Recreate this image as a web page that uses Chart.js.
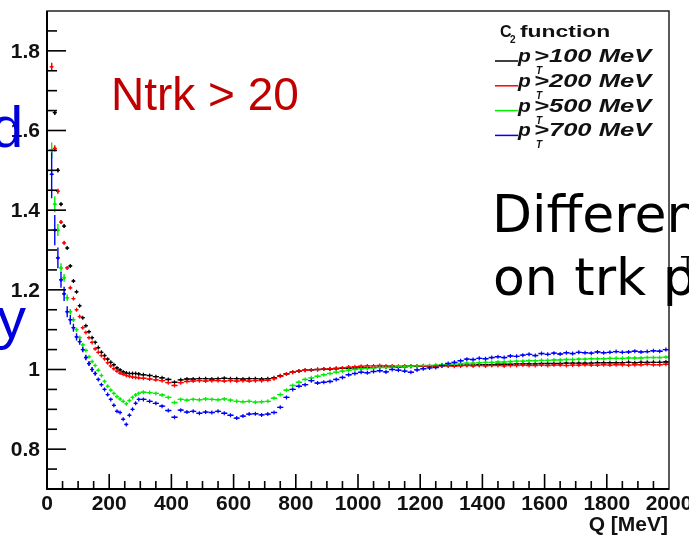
<!DOCTYPE html>
<html>
<head>
<meta charset="utf-8">
<script src="https://cdn.jsdelivr.net/npm/chart.js@4.4.1/dist/chart.umd.min.js"></script>
<style>
  html, body { margin: 0; padding: 0; background: #fff; }
  canvas { display: block; }
</style>
</head>
<body>
<canvas id="c2Chart" width="689" height="536"></canvas>
<script>
// bin centres in MeV (10 MeV bins below 300, 20 MeV bins above)
const qBins = [
  5, 15, 25, 35, 45, 55, 65, 75, 85, 95,
  105, 115, 125, 135, 145, 155, 165, 175, 185, 195,
  205, 215, 225, 235, 245, 255, 265, 275, 285, 295,
  310, 330, 350, 370, 390, 410, 430, 450, 470, 490,
  510, 530, 550, 570, 590, 610, 630, 650, 670, 690,
  710, 730, 750, 770, 790, 810, 830, 850, 870, 890,
  910, 930, 950, 970, 990, 1010, 1030, 1050, 1070, 1090,
  1110, 1130, 1150, 1170, 1190, 1210, 1230, 1250, 1270, 1290,
  1310, 1330, 1350, 1370, 1390, 1410, 1430, 1450, 1470, 1490,
  1510, 1530, 1550, 1570, 1590, 1610, 1630, 1650, 1670, 1690,
  1710, 1730, 1750, 1770, 1790, 1810, 1830, 1850, 1870, 1890,
  1910, 1930, 1950, 1970, 1990
];

// C2 for pT > 100 MeV
const c2pt100 = [
  null, null, 1.645, 1.50, 1.415, 1.36, 1.305, 1.26, 1.222, 1.195,
  1.16, 1.13, 1.11, 1.095, 1.08, 1.068, 1.055, 1.043, 1.035, 1.026,
  1.018, 1.012, 1.004, 0.999, 0.994, 0.991, 0.990, 0.990, 0.990, 0.989,
  0.987, 0.985, 0.982, 0.979, 0.975, 0.968, 0.974, 0.976, 0.976, 0.977,
  0.977, 0.976, 0.977, 0.978, 0.977, 0.977, 0.976, 0.977, 0.977, 0.976,
  0.977, 0.979, 0.984, 0.989, 0.993, 0.996, 0.998, 0.999, 1.000, 1.001,
  1.001, 1.002, 1.003, 1.003, 1.004, 1.004, 1.005, 1.005, 1.006, 1.006,
  1.007, 1.006, 1.007, 1.008, 1.008, 1.008, 1.009, 1.009, 1.010, 1.010,
  1.010, 1.011, 1.011, 1.011, 1.012, 1.012, 1.012, 1.013, 1.013, 1.013,
  1.014, 1.014, 1.014, 1.014, 1.015, 1.015, 1.015, 1.015, 1.016, 1.016,
  1.016, 1.016, 1.016, 1.017, 1.017, 1.017, 1.017, 1.017, 1.018, 1.017,
  1.018, 1.018, 1.018, 1.018, 1.019
];

// C2 for pT > 200 MeV
const c2pt200 = [
  null, 1.76, 1.555, 1.4475, 1.37, 1.318, 1.255, 1.205, 1.178, 1.15,
  1.133, 1.105, 1.093, 1.08, 1.068, 1.052, 1.043, 1.035, 1.027, 1.017,
  1.009, 1.002, 0.996, 0.991, 0.988, 0.985, 0.983, 0.981, 0.980, 0.979,
  0.978, 0.976, 0.974, 0.972, 0.967, 0.960, 0.967, 0.970, 0.971, 0.972,
  0.971, 0.972, 0.972, 0.971, 0.972, 0.971, 0.972, 0.971, 0.972, 0.972,
  0.973, 0.977, 0.983, 0.989, 0.993, 0.996, 0.998, 0.999, 1.000, 1.001,
  1.002, 1.003, 1.004, 1.006, 1.007, 1.008, 1.009, 1.009, 1.010, 1.009,
  1.009, 1.008, 1.009, 1.008, 1.009, 1.008, 1.009, 1.008, 1.009, 1.009,
  1.008, 1.009, 1.010, 1.009, 1.010, 1.009, 1.010, 1.010, 1.009, 1.010,
  1.010, 1.011, 1.010, 1.010, 1.011, 1.010, 1.011, 1.011, 1.010, 1.011,
  1.011, 1.012, 1.011, 1.011, 1.012, 1.011, 1.012, 1.012, 1.011, 1.012,
  1.012, 1.013, 1.012, 1.012, 1.013
];

// C2 for pT > 500 MeV
const c2pt500 = [
  null, 1.55, 1.415, 1.35, 1.255, 1.23, 1.18, 1.145, 1.125, 1.10,
  1.08, 1.062, 1.048, 1.032, 1.02, 1.01, 0.998, 0.985, 0.97, 0.958,
  0.948, 0.94, 0.932, 0.926, 0.92, 0.914, 0.922, 0.93, 0.936, 0.94,
  0.943, 0.942, 0.940, 0.936, 0.930, 0.917, 0.925, 0.923, 0.925, 0.924,
  0.926, 0.925, 0.924, 0.926, 0.923, 0.920, 0.919, 0.920, 0.918, 0.919,
  0.920, 0.928, 0.937, 0.948, 0.960, 0.968, 0.975, 0.979, 0.983, 0.987,
  0.990, 0.993, 0.996, 0.998, 1.000, 1.002, 1.003, 1.004, 1.005, 1.005,
  1.006, 1.007, 1.007, 1.008, 1.009, 1.010, 1.010, 1.011, 1.012, 1.013,
  1.014, 1.015, 1.016, 1.016, 1.017, 1.018, 1.018, 1.019, 1.019, 1.020,
  1.021, 1.021, 1.022, 1.022, 1.023, 1.023, 1.024, 1.024, 1.025, 1.025,
  1.026, 1.026, 1.027, 1.027, 1.027, 1.028, 1.028, 1.028, 1.029, 1.029,
  1.029, 1.030, 1.030, 1.030, 1.031
];

// C2 for pT > 700 MeV
const c2pt700 = [
  null, 1.49, 1.35, 1.28, 1.225, 1.19, 1.145, 1.125, 1.105, 1.082,
  1.07, 1.05, 1.03, 1.015, 1.0, 0.99, 0.975, 0.962, 0.95, 0.937,
  0.925, 0.91, 0.895, 0.892, 0.875, 0.862, 0.885, 0.90, 0.915, 0.925,
  0.925, 0.920, 0.915, 0.908, 0.897, 0.880, 0.898, 0.893, 0.895, 0.890,
  0.893, 0.892, 0.895, 0.890, 0.885, 0.878, 0.883, 0.888, 0.889, 0.886,
  0.888, 0.892, 0.905, 0.930, 0.950, 0.958, 0.962, 0.972, 0.966, 0.968,
  0.970, 0.975, 0.980, 0.987, 0.990, 0.993, 0.992, 0.995, 0.997, 0.994,
  1.000, 0.998, 0.996, 0.993, 0.999, 1.002, 1.004, 1.005, 1.010, 1.015,
  1.018, 1.022, 1.026, 1.025, 1.028, 1.027, 1.030, 1.032, 1.030, 1.034,
  1.033, 1.036, 1.038, 1.035, 1.040, 1.038, 1.041, 1.039, 1.042, 1.040,
  1.043, 1.042, 1.041, 1.044, 1.042, 1.043, 1.045, 1.043, 1.044, 1.046,
  1.044, 1.045, 1.047, 1.046, 1.050
];

// statistical errors of the first bins (later bins are tiny)
const err100 = [0, 0, 0.006, 0.005, 0.004, 0.004, 0.003, 0.003];
const err200 = [0, 0.01, 0.008, 0.006, 0.005, 0.004, 0.004, 0.003];
const err500 = [0, 0.02, 0.02, 0.015, 0.012, 0.01, 0.008, 0.007, 0.006, 0.005, 0.005, 0.004];
const err700 = [0, 0.06, 0.038, 0.026, 0.02, 0.018, 0.014, 0.012, 0.01, 0.009, 0.008, 0.007, 0.007, 0.006, 0.006, 0.005];

const seriesNames = [">100 MeV", ">200 MeV", ">500 MeV", ">700 MeV"];
const seriesColors = ["#000000", "#ff0000", "#00ee00", "#0000ff"];

const xTickLabels = [0, 200, 400, 600, 800, 1000, 1200, 1400, 1600, 1800, 2000];
const yTickLabels = [0.8, 1, 1.2, 1.4, 1.6, 1.8];

function toPoints(values, errs) {
  const pts = [];
  values.forEach((v, i) => {
    if (v === null) return;
    pts.push({ x: qBins[i], y: v, e: errs[i] || 0.002, w: qBins[i] < 300 ? 10 : 20 });
  });
  return pts;
}

const allValues = [c2pt100, c2pt200, c2pt500, c2pt700];
const allErrs = [err100, err200, err500, err700];

const datasets = allValues.map((vals, k) => ({
  label: "pT" + seriesNames[k],
  data: toPoints(vals, allErrs[k]),
  borderColor: seriesColors[k],
  backgroundColor: seriesColors[k],
  pointStyle: "cross",
  pointRadius: 2,
  borderWidth: 1.2,
  showLine: false,
  order: 3 - k,
}));

// horizontal bin width + vertical error bar, like ROOT "E" drawing
const binPlugin = {
  id: "bins",
  beforeDatasetsDraw(chart) {
    const ctx = chart.ctx;
    const xs = chart.scales.x, ys = chart.scales.y;
    const a = chart.chartArea;
    ctx.save();
    ctx.beginPath();
    ctx.rect(a.left, a.top, a.right - a.left, a.bottom - a.top);
    ctx.clip();
    chart.data.datasets.forEach((ds, i) => {
      const meta = chart.getDatasetMeta(i);
      ctx.strokeStyle = ds.borderColor;
      ctx.lineWidth = 1.4;
      meta.data.forEach((pt, j) => {
        const d = ds.data[j];
        ctx.beginPath();
        ctx.moveTo(xs.getPixelForValue(d.x - d.w / 2), pt.y);
        ctx.lineTo(xs.getPixelForValue(d.x + d.w / 2), pt.y);
        ctx.moveTo(pt.x, ys.getPixelForValue(d.y + d.e));
        ctx.lineTo(pt.x, ys.getPixelForValue(d.y - d.e));
        ctx.stroke();
      });
    });
    ctx.restore();
  },
};

// text squeezed wider, the way the legend of the original is
function wideText(ctx, text, x, y, sx) {
  ctx.save();
  ctx.translate(x, y);
  ctx.scale(sx, 1);
  ctx.fillText(text, 0, 0);
  ctx.restore();
}

// frame, inside ticks, labels, legend and the slide texts
const framePlugin = {
  id: "frame",
  afterDraw(chart) {
    const ctx = chart.ctx;
    const xs = chart.scales.x, ys = chart.scales.y;
    const a = chart.chartArea;
    ctx.save();

    ctx.strokeStyle = "#222";
    ctx.lineWidth = 1.5;
    ctx.strokeRect(a.left, a.top, a.right - a.left, a.bottom - a.top);

    ctx.strokeStyle = "#000";
    ctx.lineWidth = 2;
    ctx.beginPath();
    ctx.moveTo(a.left, a.top); ctx.lineTo(a.left, a.bottom); ctx.lineTo(a.right, a.bottom);
    ctx.stroke();

    // y ticks every 0.05, major every 0.2
    ctx.lineWidth = 1.6;
    for (let k = 15; k <= 37; k++) {
      const v = k * 0.05;
      const y = ys.getPixelForValue(v);
      const major = k % 4 === 0;
      ctx.beginPath();
      ctx.moveTo(a.left, y);
      ctx.lineTo(a.left + (major ? 19 : 10), y);
      ctx.stroke();
    }
    // x ticks every 50, major every 200
    for (let q = 50; q < 2000; q += 50) {
      const x = xs.getPixelForValue(q);
      const major = q % 200 === 0;
      ctx.beginPath();
      ctx.moveTo(x, a.bottom);
      ctx.lineTo(x, a.bottom - (major ? 15 : 8));
      ctx.stroke();
    }

    ctx.fillStyle = "#111";
    ctx.font = 'bold 21px "Liberation Sans", Arial, sans-serif';
    ctx.textAlign = "right";
    ctx.textBaseline = "middle";
    yTickLabels.forEach((v) => {
      ctx.fillText(String(v), 40, ys.getPixelForValue(v) + 1);
    });
    ctx.textAlign = "center";
    ctx.textBaseline = "alphabetic";
    xTickLabels.forEach((v) => {
      ctx.fillText(String(v), xs.getPixelForValue(v), 510);
    });
    ctx.textAlign = "right";
    ctx.fillText("Q [MeV]", 668, 531);

    // legend
    ctx.textAlign = "left";
    ctx.fillStyle = "#111";
    ctx.font = 'bold 16px "Liberation Sans", Arial, sans-serif';
    ctx.fillText("C", 500, 37);
    ctx.font = 'bold 10px "Liberation Sans", Arial, sans-serif';
    ctx.fillText("2", 510, 43);
    ctx.font = 'bold 16px "Liberation Sans", Arial, sans-serif';
    wideText(ctx, "function", 520, 37, 1.43);
    seriesNames.forEach((name, k) => {
      const y = 61 + 24.8 * k;
      ctx.strokeStyle = seriesColors[k];
      ctx.lineWidth = 1.5;
      ctx.beginPath();
      ctx.moveTo(495, y);
      ctx.lineTo(518, y);
      ctx.stroke();
      ctx.font = 'italic bold 19px "Liberation Sans", Arial, sans-serif';
      wideText(ctx, "p", 518, y + 1, 1.1);
      ctx.font = 'italic bold 10px "Liberation Sans", Arial, sans-serif';
      ctx.fillText("T", 536, y + 13);
      ctx.font = 'italic bold 18px "Liberation Sans", Arial, sans-serif';
      wideText(ctx, name, 534, y + 1, 1.42);
    });

    // texts of the slide lying over the plot
    ctx.fillStyle = "#c00000";
    ctx.font = '46px "Liberation Sans", Arial, sans-serif';
    ctx.fillText("Ntrk > 20", 111, 110);

    ctx.fillStyle = "#0000dd";
    ctx.font = '58px "Liberation Sans", Arial, sans-serif';
    ctx.fillText("d", -9, 147);
    ctx.fillText("y", -3, 338);

    ctx.fillStyle = "#000";
    ctx.font = '52px "DejaVu Sans", sans-serif';
    ctx.fillText("Differen", 492, 232);
    ctx.fillText("on trk p", 493, 295);
    ctx.font = '22px "DejaVu Sans", sans-serif';
    ctx.fillText("T", 681, 272);

    ctx.restore();
  },
};

new Chart(document.getElementById("c2Chart"), {
  type: "scatter",
  data: { datasets: datasets },
  options: {
    responsive: false,
    animation: false,
    layout: { padding: { left: 47, right: 20, top: 11, bottom: 47 } },
    scales: {
      x: { type: "linear", min: 0, max: 2000, display: false },
      y: { type: "linear", min: 0.7, max: 1.9, display: false },
    },
    plugins: {
      legend: { display: false },
      tooltip: { enabled: false },
    },
  },
  plugins: [binPlugin, framePlugin],
});
</script>
</body>
</html>
